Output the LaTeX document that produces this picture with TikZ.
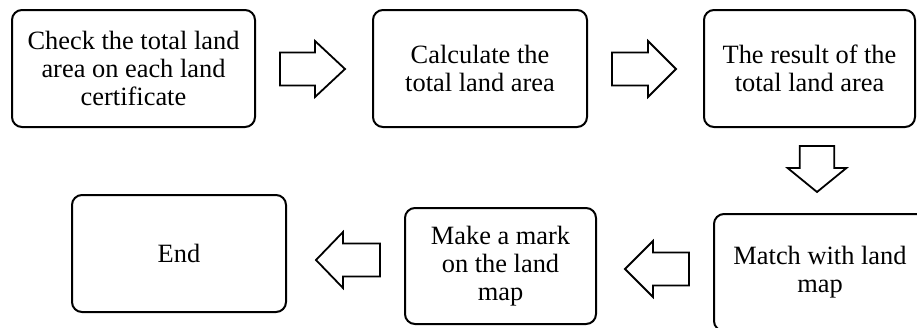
\documentclass[tikz,border=0pt]{standalone}
\usepackage{fontspec}
\setmainfont{Liberation Serif}
\begin{document}
\begin{tikzpicture}[x=1pt,y=-1pt,
  box/.style={draw, line width=2pt, rounded corners=10pt, align=center,
    inner sep=0pt, font=\fontsize{26.4}{28}\selectfont},
  arrowline/.style={draw, fill=white, line width=1.8pt, line join=miter},
  pics/barrow/.style 2 args={code={
    \draw[arrowline] (0,-16.5) -- ({#1-#2},-16.5) -- ({#1-#2},-28) -- (#1,0)
      -- ({#1-#2},28) -- ({#1-#2},16.5) -- (0,16.5) -- cycle;}}]
\useasboundingbox (0,0) rectangle (917,327);
\clip (0,0) rectangle (917,327);

\node[box, minimum width=243, minimum height=117] (b1) at (133.5,68.5)
  {Check the total land\\area on each land\\certificate};
\node[box, minimum width=214, minimum height=117] (b2) at (480,68.5)
  {Calculate the\\total land area};
\node[box, minimum width=211, minimum height=117] (b3) at (809.5,68.5)
  {The result of the\\total land area};
\node[box, minimum width=212, minimum height=117] (b4) at (820,272.5)
  {Match with land\\map};
\node[box, minimum width=191, minimum height=116] (b5) at (500.5,266)
  {Make a mark\\on the land\\map};
\node[box, minimum width=214, minimum height=117] (b6) at (179,253.5)
  {End};

% block arrows between the boxes
\coordinate (a1) at (280,69);
\coordinate (a2) at (612,69);
\coordinate (a3) at (817,146);
\coordinate (a4) at (689,269);
\coordinate (a5) at (380,260);
\pic at (a1) {barrow={65}{30}};
\pic at (a2) {barrow={64}{28}};
\pic[rotate=-90, yscale=1.05] at (a3) {barrow={46}{24}};
\pic[rotate=180] at (a4) {barrow={64}{28}};
\pic[rotate=180] at (a5) {barrow={64}{27}};
\end{tikzpicture}
\end{document}
